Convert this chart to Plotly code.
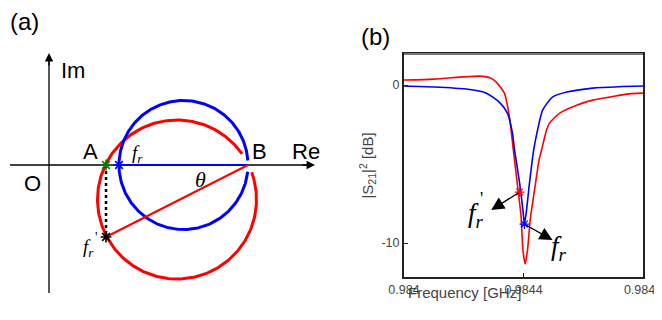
import numpy as np
import plotly.graph_objects as go

# ---------------- Panel (b) data: |S21|^2 in dB vs frequency (GHz) ----------------
freq_blue = [0.98400, 0.98410, 0.984208, 0.984276, 0.984319, 0.984346, 0.984363, 0.984370,
             0.984387, 0.984398, 0.984403, 0.984409, 0.984420, 0.984434, 0.984447, 0.984464,
             0.984497, 0.984545, 0.984632, 0.98472, 0.98480]
s21_blue = [-0.06, -0.12, -0.25, -0.51, -1.08, -1.77, -3.04, -4.11,
            -6.2, -7.9, -8.8, -8.1, -6.2, -4.11, -2.85, -1.58,
            -0.76, -0.44, -0.19, -0.10, -0.06]

freq_red = [0.98400, 0.98410, 0.98420, 0.984252, 0.984290, 0.984309, 0.984336, 0.984353,
            0.984366, 0.984379, 0.984392, 0.984398, 0.9844057, 0.9844134, 0.9844235,
            0.9844319, 0.9844403, 0.9844521, 0.9844605, 0.9844773, 0.984487, 0.984521, 0.984578,
            0.984632, 0.984689, 0.984746, 0.98480]
s21_red = [0.32, 0.38, 0.52, 0.57, 0.45, 0.19, -0.51, -2.03,
           -4.11, -6.2, -8.35, -10.44, -11.33, -10.44, -8.35,
           -7.28, -6.2, -4.75, -4.11, -2.85, -2.41, -1.77, -1.27,
           -0.95, -0.76, -0.57, -0.51]

star_red = (0.984387, -6.77)
star_blue = (0.984403, -8.8)
x_tickvals = [0.984, 0.9844, 0.9848]
x_ticktext = ["0.984", "0.9844", "0.9848"]
y_tickvals = [0, -10]
y_ticktext = ["0", "-10"]
x_title = "Frequency [GHz]"
y_title = "|S<sub>21</sub>|<sup>2</sup> [dB]"

# ---------------- Panel (a) schematic (screen-pixel coordinates) ----------------
blue_circle = dict(cx=183.5, cy=165, r=64.5, gap_from=-6, gap_to=4)
red_circle = dict(cx=177, cy=199.5, r=79.5, gap_from=20, gap_to=35)
pt_A = (106, 165)
pt_B = (248, 165)
pt_fr = (119, 165)
pt_frp = (106, 237)
re_axis = ((10, 165), (315, 165))
im_axis = ((49, 293), (49, 53))

SERIF = "Liberation Serif"
SANS = "Liberation Sans"
OFF = 8            # page body margin
W, H = 662 - OFF, 320 - 2 * OFF   # figure fits the window without scrolling

fig = go.Figure()


def arc(c):
    a = np.radians(np.linspace(c["gap_to"], c["gap_from"] + 360, 300))
    return c["cx"] + c["r"] * np.cos(a), c["cy"] - c["r"] * np.sin(a)


def seg(p, q, color, width, dash="solid"):
    fig.add_trace(go.Scatter(x=[p[0], q[0]], y=[p[1], q[1]], mode="lines",
                             line=dict(color=color, width=width, dash=dash),
                             xaxis="x2", yaxis="y2", hoverinfo="skip"))


def star(x, y, color, size=9, w=1.6, ax="2"):
    fig.add_trace(go.Scatter(x=[x], y=[y], mode="markers",
                             marker=dict(symbol="asterisk-open", size=size, color=color,
                                         line=dict(color=color, width=w)),
                             xaxis="x" + ax if ax else "x", yaxis="y" + ax if ax else "y"))


seg(re_axis[0], (re_axis[1][0] - 6, re_axis[1][1]), "black", 1.3)
seg(im_axis[0], (im_axis[1][0], im_axis[1][1] + 6), "black", 1.3)

bx, by = arc(blue_circle)
rx, ry = arc(red_circle)
fig.add_trace(go.Scatter(x=rx, y=ry, mode="lines", line=dict(color="#ff0000", width=3),
                         xaxis="x2", yaxis="y2", hoverinfo="skip"))
fig.add_trace(go.Scatter(x=bx, y=by, mode="lines", line=dict(color="#0000ff", width=3),
                         xaxis="x2", yaxis="y2", hoverinfo="skip"))
seg(pt_fr, pt_B, "#0000ff", 2)
seg(pt_frp, pt_B, "#ff0000", 2)
seg(pt_A, pt_frp, "black", 2.5, "dot")
star(pt_A[0], pt_A[1], "#008000")
star(pt_fr[0], pt_fr[1], "#0000ff")
star(pt_frp[0], pt_frp[1], "black")

# ---------------- Panel (b) traces ----------------
fig.add_trace(go.Scatter(x=freq_red, y=s21_red, mode="lines",
                         line=dict(color="#ff0000", width=1.6, shape="spline", smoothing=0.6)))
fig.add_trace(go.Scatter(x=freq_blue, y=s21_blue, mode="lines",
                         line=dict(color="#0000ff", width=1.6, shape="spline", smoothing=0.6)))
star(star_red[0], star_red[1], "#ff0000", size=8, w=1.2, ax="")
star(star_blue[0], star_blue[1], "#0000ff", size=8, w=1.2, ax="")

ann = []
ann.append(dict(x=im_axis[1][0], y=im_axis[1][1], ax=im_axis[1][0], ay=im_axis[1][1] + 14,
                xref="x2", yref="y2", axref="x2", ayref="y2",
                text="", showarrow=True, arrowhead=2, arrowsize=1.3, arrowwidth=1.3, arrowcolor="black"))
ann.append(dict(x=re_axis[1][0], y=re_axis[1][1], ax=re_axis[1][0] - 14, ay=re_axis[1][1],
                xref="x2", yref="y2", axref="x2", ayref="y2",
                text="", showarrow=True, arrowhead=2, arrowsize=1.3, arrowwidth=1.3, arrowcolor="black"))


def txt(x, y, t, size, font=SANS, color="black"):
    ann.append(dict(x=x, y=y, xref="x2", yref="y2", text=t, showarrow=False,
                    font=dict(family=font, size=size, color=color)))


def ptxt(sx, sy, t, size, font=SANS, color="black"):
    # text placed by screen pixel position, in paper coordinates
    ann.append(dict(x=(sx - OFF) / W, y=(H - (sy - OFF)) / H, xref="paper", yref="paper",
                    text=t, showarrow=False, font=dict(family=font, size=size, color=color)))


txt(24, 21, "(a)", 24)
ptxt(375, 21, "(b)", 24)
txt(73, 70, "Im", 22)
txt(306, 151, "Re", 22)
txt(90, 151, "A", 22)
txt(259, 151, "B", 22)
txt(32, 183, "O", 22)
txt(200, 179, "<i>θ</i>", 22, SERIF)
txt(137, 154, "<i>f</i><sub><i>r</i></sub>", 19, SERIF)
txt(88, 248, "<i>f</i><sub><i>r</i></sub>", 19, SERIF)
txt(96, 237, "'", 14, SERIF)
ptxt(523, 303, x_title, 15, SANS, color="#444")

ann.append(dict(x=0.984292, y=-7.91, ax=star_red[0], ay=star_red[1], xref="x", yref="y",
                axref="x", ayref="y", text="", showarrow=True, arrowhead=2, arrowsize=2,
                arrowwidth=1.3, arrowcolor="black"))
ann.append(dict(x=0.984497, y=-9.81, ax=star_blue[0], ay=star_blue[1], xref="x", yref="y",
                axref="x", ayref="y", text="", showarrow=True, arrowhead=2, arrowsize=2,
                arrowwidth=1.3, arrowcolor="black"))
ann.append(dict(x=0.98424, y=-8.25, xref="x", yref="y", text="<i>f</i><sub><i>r</i></sub>",
                showarrow=False, font=dict(family=SERIF, size=27, color="black")))
ann.append(dict(x=0.98426, y=-7.2, xref="x", yref="y", text="'", showarrow=False,
                font=dict(family=SERIF, size=18, color="black")))
ann.append(dict(x=0.98452, y=-10.3, xref="x", yref="y", text="<i>f</i><sub><i>r</i></sub>",
                showarrow=False, font=dict(family=SERIF, size=27, color="black")))

fig.update_layout(
    template="none",
    width=W, height=H, margin=dict(l=0, r=0, t=0, b=0, pad=0),
    paper_bgcolor="white", plot_bgcolor="white", showlegend=False,
    annotations=ann,
    shapes=[dict(type="line", xref="x domain", yref="y domain", x0=0, x1=1, y0=1, y1=1,
                 line=dict(color="#777", width=2), layer="above")],
    xaxis=dict(domain=[(404 - OFF) / W, (643 - OFF) / W], range=[0.984, 0.9848],
               tickvals=x_tickvals,
               ticktext=x_ticktext, showgrid=False, zeroline=False, showline=True, mirror=True,
               linecolor="#222", linewidth=2, ticks="inside", ticklen=4, tickcolor="#222",
               automargin=False, ticklabeloverflow="allow",
               tickfont=dict(family=SANS, size=12.5, color="#444")),
    yaxis=dict(domain=[(H - (277 - OFF)) / H, (H - (54 - OFF)) / H], range=[-12.15, 1.97],
               tickvals=y_tickvals, ticktext=y_ticktext, showgrid=False, zeroline=False,
               showline=True, mirror=True, linecolor="#222", linewidth=2, ticks="inside",
               automargin=False, ticklabeloverflow="allow",
               ticklen=4, tickcolor="#222", tickfont=dict(family=SANS, size=12.5, color="#444"),
               title=dict(text=y_title, font=dict(family=SANS, size=15, color="#444"), standoff=4)),
    xaxis2=dict(domain=[0, 331 / W], range=[OFF, 331 + OFF], visible=False, anchor="y2",
                automargin=False),
    yaxis2=dict(domain=[0, 1], range=[H + OFF, OFF], visible=False, anchor="x2",
                automargin=False),
)

fig.write_html("out.html")
